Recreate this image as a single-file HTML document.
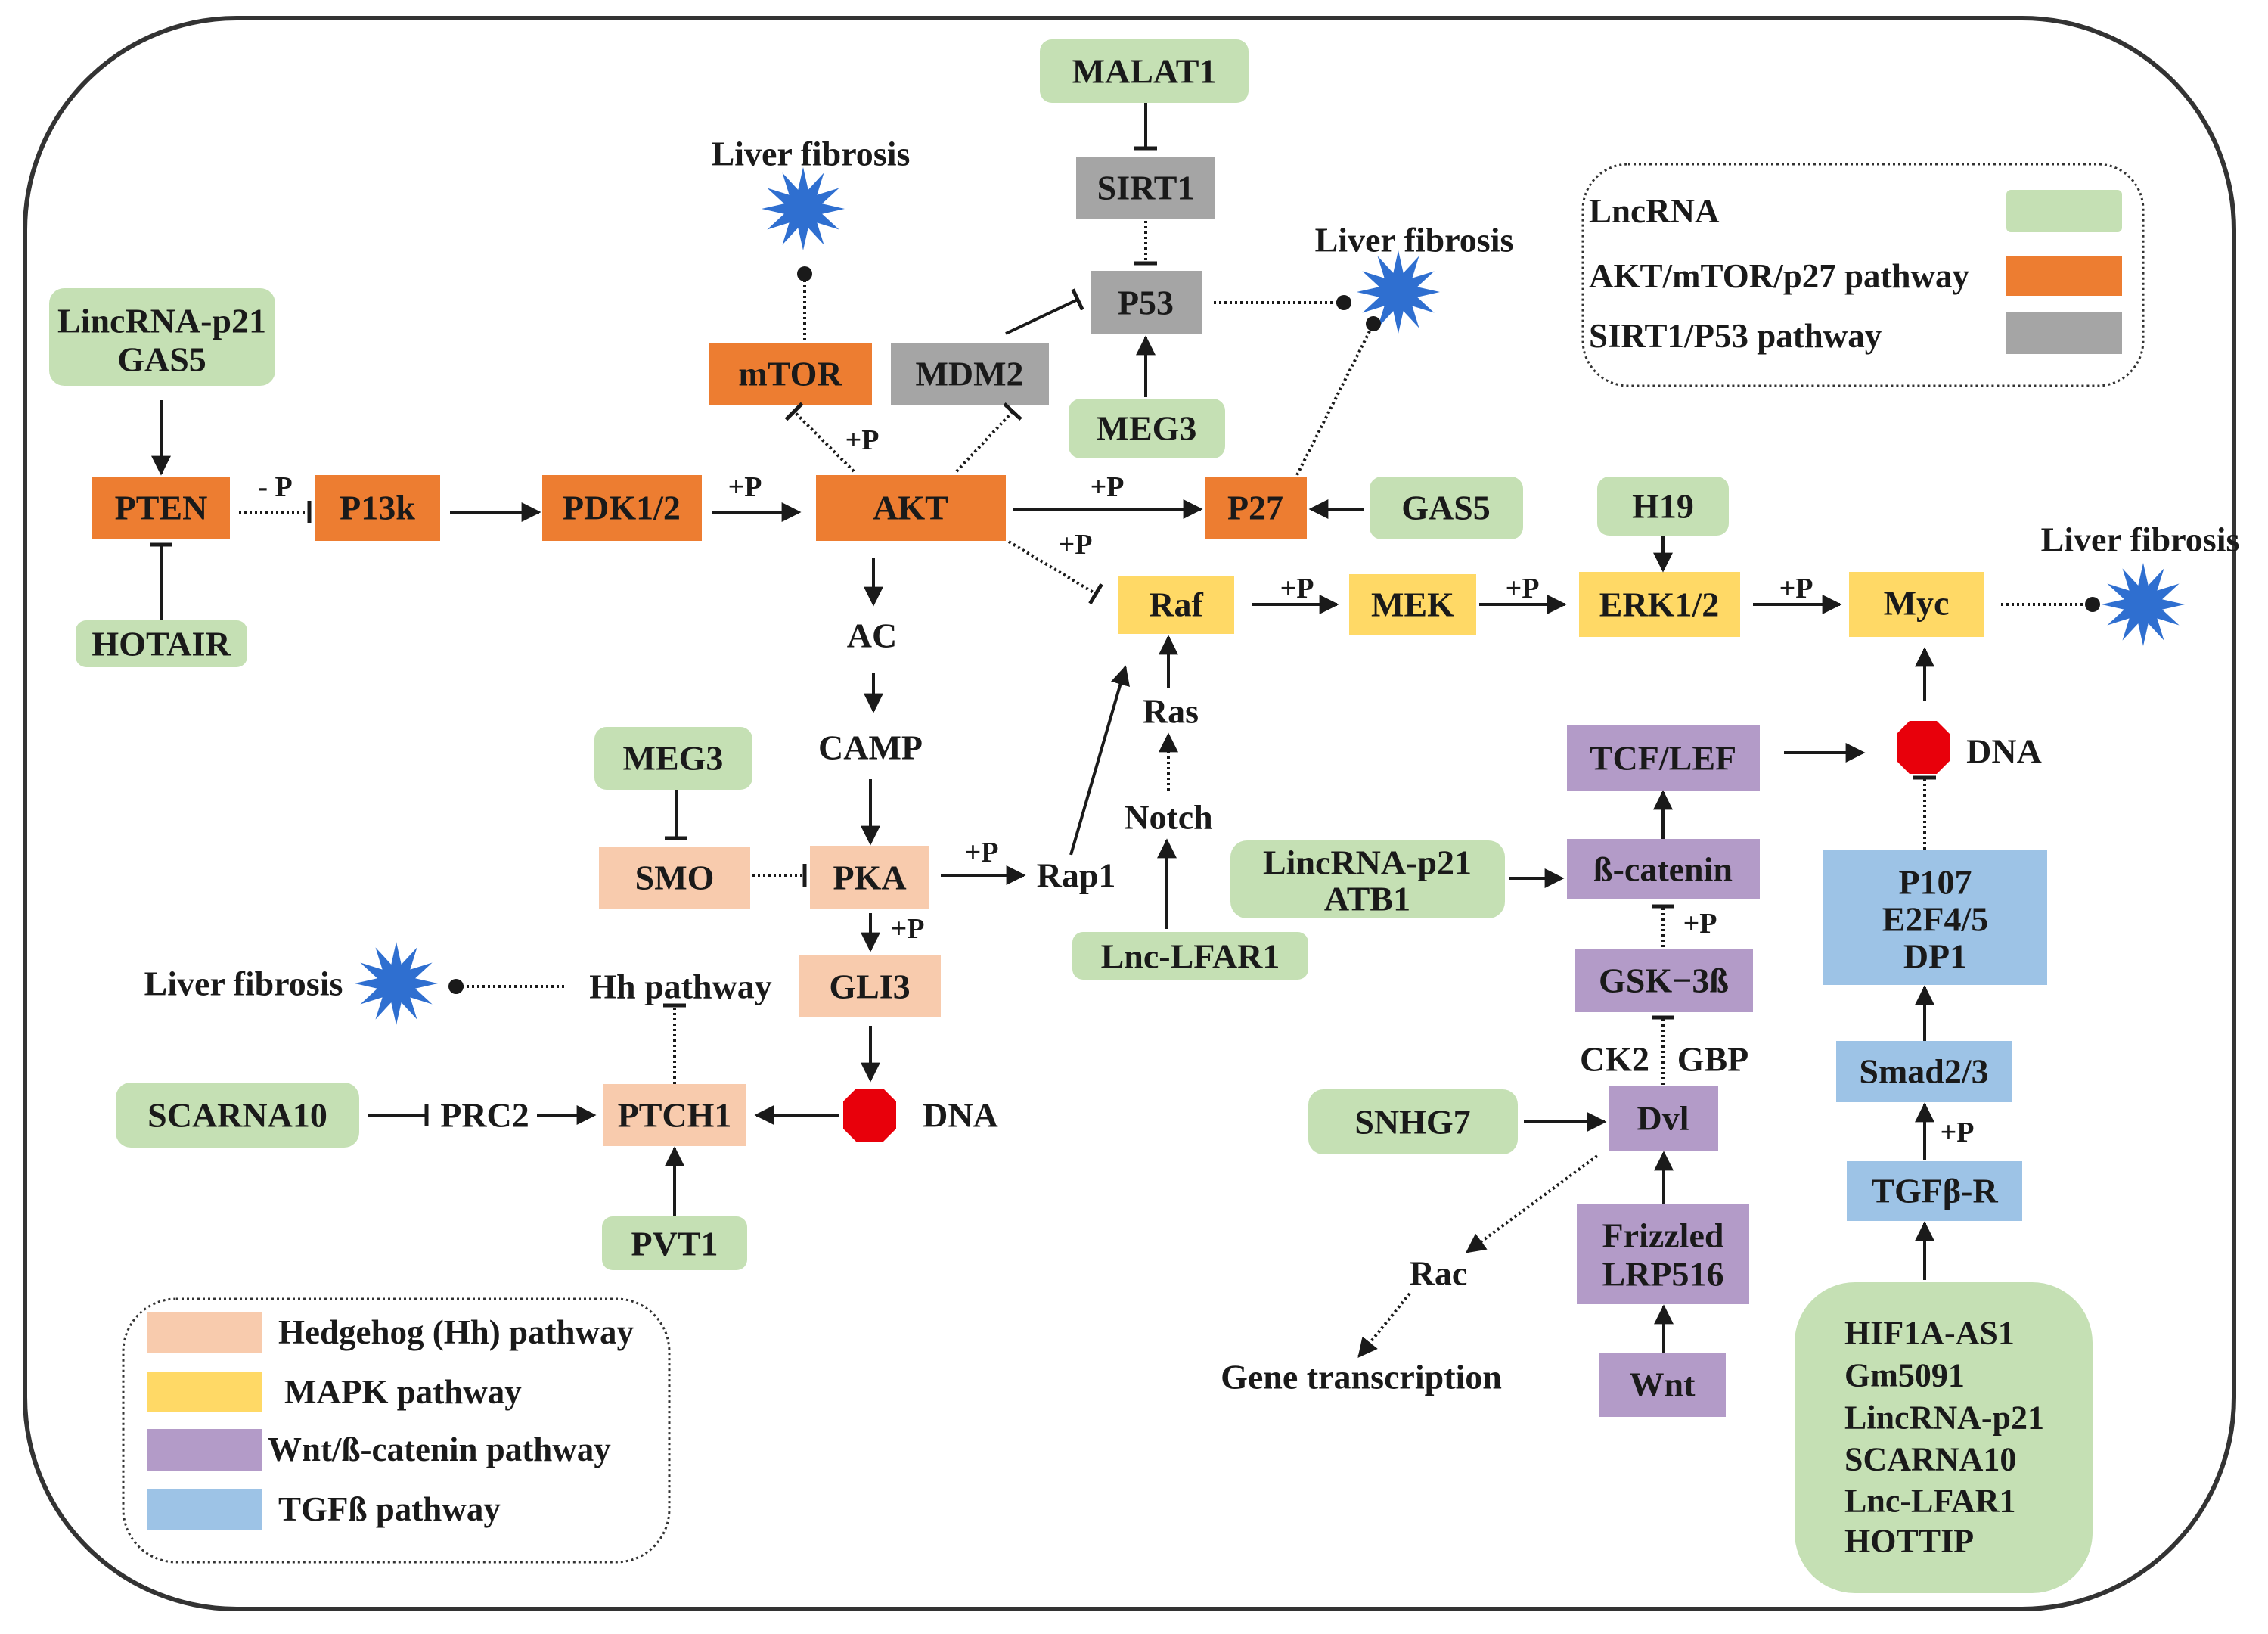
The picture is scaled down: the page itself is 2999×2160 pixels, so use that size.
<!DOCTYPE html>
<html><head><meta charset="utf-8"><style>
html,body{margin:0;padding:0;background:#fff}
svg{display:block}
text{font-family:"Liberation Serif",serif;font-weight:bold;fill:#1a1a1a}
</style></head><body>
<svg width="2999" height="2160" viewBox="0 0 2999 2160" xmlns="http://www.w3.org/2000/svg">
<defs>
<marker id="a" viewBox="0 0 10 10" refX="9" refY="5" markerWidth="26" markerHeight="26" markerUnits="userSpaceOnUse" orient="auto"><path d="M0,0 L10,5 L0,10z" fill="#1a1a1a"/></marker>
<marker id="t" viewBox="0 0 5 30" refX="2.5" refY="15" markerWidth="5" markerHeight="30" markerUnits="userSpaceOnUse" orient="auto"><rect width="5" height="30" fill="#1a1a1a"/></marker>
<marker id="d" viewBox="0 0 20 20" refX="10" refY="10" markerWidth="20" markerHeight="20" markerUnits="userSpaceOnUse" orient="auto"><circle cx="10" cy="10" r="10" fill="#1a1a1a"/></marker>
<polygon id="star" fill="#2f6fd0" points="55,0 25.1,6.7 47.6,27.5 18.4,18.4 27.5,47.6 6.7,25.1 0,55 -6.7,25.1 -27.5,47.6 -18.4,18.4 -47.6,27.5 -25.1,6.7 -55,0 -25.1,-6.7 -47.6,-27.5 -18.4,-18.4 -27.5,-47.6 -6.7,-25.1 0,-55 6.7,-25.1 27.5,-47.6 18.4,-18.4 47.6,-27.5 25.1,-6.7"/>
<polygon id="oct" fill="#e8000b" points="-18,-35 18,-35 35,-18 35,18 18,35 -18,35 -35,18 -35,-18"/>
</defs>
<rect x="33" y="24" width="2921" height="2103" rx="280" ry="280" fill="#fff" stroke="#333" stroke-width="6"/>

<rect x="2093" y="217" width="741" height="293" rx="60" fill="none" stroke="#333" stroke-width="3" stroke-dasharray="3 4"/>
<rect x="2653" y="251" width="153" height="56" rx="6" fill="#c5e0b4"/>
<rect x="2653" y="338" width="153" height="53" fill="#ed7d31"/>
<rect x="2653" y="413" width="153" height="55" fill="#a5a5a5"/>
<g font-size="45"><text x="2101" y="279" dominant-baseline="central">LncRNA</text>
<text x="2101" y="365" dominant-baseline="central">AKT/mTOR/p27 pathway</text>
<text x="2101" y="444" dominant-baseline="central">SIRT1/P53 pathway</text></g>

<rect x="163" y="1717" width="722" height="348" rx="70" fill="none" stroke="#333" stroke-width="3" stroke-dasharray="3 4"/>
<rect x="194" y="1734" width="152" height="54" fill="#f8cbad"/>
<rect x="194" y="1814" width="152" height="53" fill="#ffd966"/>
<rect x="194" y="1889" width="152" height="55" fill="#b39bc8"/>
<rect x="194" y="1968" width="152" height="54" fill="#9dc3e6"/>
<g font-size="45"><text x="368" y="1761" dominant-baseline="central">Hedgehog (Hh) pathway</text>
<text x="376" y="1840" dominant-baseline="central">MAPK pathway</text>
<text x="354" y="1916" dominant-baseline="central">Wnt/ß-catenin pathway</text>
<text x="368" y="1995" dominant-baseline="central">TGFß pathway</text></g>

<g>
<rect x="1375" y="52" width="276" height="84" rx="16" fill="#c5e0b4"/>
<rect x="1423" y="207" width="184" height="82" fill="#a5a5a5"/>
<rect x="1442" y="358" width="147" height="84" fill="#a5a5a5"/>
<rect x="1413" y="527" width="207" height="79" rx="16" fill="#c5e0b4"/>
<rect x="937" y="453" width="216" height="82" fill="#ed7d31"/>
<rect x="1178" y="453" width="209" height="82" fill="#a5a5a5"/>
<rect x="65" y="381" width="299" height="129" rx="20" fill="#c5e0b4"/>
<rect x="122" y="630" width="182" height="83" fill="#ed7d31"/>
<rect x="100" y="820" width="227" height="62" rx="14" fill="#c5e0b4"/>
<rect x="416" y="628" width="166" height="87" fill="#ed7d31"/>
<rect x="717" y="628" width="211" height="87" fill="#ed7d31"/>
<rect x="1079" y="628" width="251" height="87" fill="#ed7d31"/>
<rect x="1593" y="630" width="135" height="83" fill="#ed7d31"/>
<rect x="1811" y="630" width="203" height="83" rx="16" fill="#c5e0b4"/>
<rect x="2112" y="630" width="174" height="78" rx="16" fill="#c5e0b4"/>
<rect x="1478" y="761" width="154" height="77" fill="#ffd966"/>
<rect x="1784" y="759" width="168" height="81" fill="#ffd966"/>
<rect x="2088" y="756" width="213" height="86" fill="#ffd966"/>
<rect x="2445" y="756" width="179" height="86" fill="#ffd966"/>
<rect x="2072" y="959" width="255" height="86" fill="#b39bc8"/>
<rect x="2072" y="1109" width="255" height="80" fill="#b39bc8"/>
<rect x="2083" y="1254" width="235" height="84" fill="#b39bc8"/>
<rect x="2127" y="1436" width="145" height="85" fill="#b39bc8"/>
<rect x="2085" y="1591" width="228" height="133" fill="#b39bc8"/>
<rect x="2115" y="1788" width="167" height="85" fill="#b39bc8"/>
<rect x="1627" y="1111" width="363" height="103" rx="22" fill="#c5e0b4"/>
<rect x="1418" y="1232" width="312" height="63" rx="14" fill="#c5e0b4"/>
<rect x="1730" y="1440" width="277" height="86" rx="20" fill="#c5e0b4"/>
<rect x="2411" y="1123" width="296" height="179" fill="#9dc3e6"/>
<rect x="2428" y="1376" width="232" height="81" fill="#9dc3e6"/>
<rect x="2442" y="1535" width="232" height="79" fill="#9dc3e6"/>
<rect x="2373" y="1695" width="394" height="411" rx="80" fill="#c5e0b4"/>
<rect x="786" y="961" width="209" height="83" rx="16" fill="#c5e0b4"/>
<rect x="792" y="1119" width="200" height="82" fill="#f8cbad"/>
<rect x="1071" y="1118" width="158" height="83" fill="#f8cbad"/>
<rect x="1057" y="1263" width="187" height="82" fill="#f8cbad"/>
<rect x="797" y="1433" width="190" height="82" fill="#f8cbad"/>
<rect x="153" y="1431" width="322" height="86" rx="20" fill="#c5e0b4"/>
<rect x="796" y="1608" width="192" height="71" rx="14" fill="#c5e0b4"/>
</g>
<circle cx="2543" cy="988" r="33" fill="#e8000b"/><use href="#oct" x="2543" y="988"/>
<circle cx="1150" cy="1474" r="33" fill="#e8000b"/><use href="#oct" x="1150" y="1474"/>
<use href="#star" x="1062" y="276"/>
<use href="#star" x="1849" y="386"/>
<use href="#star" x="2834" y="799"/>
<use href="#star" x="524" y="1300"/>

<g font-size="46" text-anchor="middle" dominant-baseline="central">
<text x="1513" y="94">MALAT1</text>
<text x="1515" y="248">SIRT1</text>
<text x="1515" y="400">P53</text>
<text x="1516" y="566">MEG3</text>
<text x="1045" y="494">mTOR</text>
<text x="1282" y="494">MDM2</text>
<text x="214" y="424">LincRNA-p21</text>
<text x="214" y="475">GAS5</text>
<text x="213" y="671">PTEN</text>
<text x="213" y="851">HOTAIR</text>
<text x="499" y="671">P13k</text>
<text x="822" y="671">PDK1/2</text>
<text x="1204" y="671">AKT</text>
<text x="1660" y="671">P27</text>
<text x="1912" y="671">GAS5</text>
<text x="2199" y="669">H19</text>
<text x="1555" y="799">Raf</text>
<text x="1868" y="799">MEK</text>
<text x="2194" y="799">ERK1/2</text>
<text x="2534" y="797">Myc</text>
<text x="2199" y="1002">TCF/LEF</text>
<text x="2199" y="1149">ß-catenin</text>
<text x="2200" y="1296">GSK−3ß</text>
<text x="2199" y="1478">Dvl</text>
<text x="2199" y="1633">Frizzled</text>
<text x="2199" y="1684">LRP516</text>
<text x="2198" y="1830">Wnt</text>
<text x="1808" y="1140">LincRNA-p21</text>
<text x="1808" y="1188">ATB1</text>
<text x="1574" y="1264">Lnc-LFAR1</text>
<text x="1868" y="1483">SNHG7</text>
<text x="2559" y="1166">P107</text>
<text x="2559" y="1215">E2F4/5</text>
<text x="2559" y="1264">DP1</text>
<text x="2544" y="1416">Smad2/3</text>
<text x="2558" y="1574">TGFβ-R</text>
<text x="890" y="1002">MEG3</text>
<text x="892" y="1160">SMO</text>
<text x="1150" y="1160">PKA</text>
<text x="1150" y="1304">GLI3</text>
<text x="892" y="1474">PTCH1</text>
<text x="314" y="1474">SCARNA10</text>
<text x="892" y="1644">PVT1</text>
</g>
<g font-size="44" dominant-baseline="central">
<text x="2439" y="1762">HIF1A-AS1</text>
<text x="2439" y="1818">Gm5091</text>
<text x="2439" y="1874">LincRNA-p21</text>
<text x="2439" y="1929">SCARNA10</text>
<text x="2439" y="1984">Lnc-LFAR1</text>
<text x="2439" y="2037">HOTTIP</text>
</g>

<g font-size="46" text-anchor="middle" dominant-baseline="central">
<text x="1072" y="203">Liver fibrosis</text>
<text x="1870" y="317">Liver fibrosis</text>
<text x="2830" y="713">Liver fibrosis</text>
<text x="322" y="1300">Liver fibrosis</text>
<text x="1153" y="840">AC</text>
<text x="1151" y="988">CAMP</text>
<text x="1423" y="1157">Rap1</text>
<text x="1548" y="940" font-weight="normal">Ras</text>
<text x="1545" y="1080">Notch</text>
<text x="900" y="1304">Hh pathway</text>
<text x="641" y="1474">PRC2</text>
<text x="1270" y="1474">DNA</text>
<text x="2650" y="993">DNA</text>
<text x="2135" y="1400" font-weight="normal">CK2</text>
<text x="2265" y="1400" font-weight="normal">GBP</text>
<text x="1902" y="1683" font-weight="normal">Rac</text>
<text x="1800" y="1820">Gene transcription</text>
</g>
<g font-size="38" text-anchor="middle" dominant-baseline="central">
<text x="364" y="644">- P</text>
<text x="985" y="644">+P</text>
<text x="1140" y="582">+P</text>
<text x="1464" y="644">+P</text>
<text x="1422" y="720">+P</text>
<text x="1715" y="778">+P</text>
<text x="2013" y="778">+P</text>
<text x="2375" y="778">+P</text>
<text x="1298" y="1127">+P</text>
<text x="1200" y="1228">+P</text>
<text x="2248" y="1221">+P</text>
<text x="2588" y="1497">+P</text>
</g>

<g stroke="#1a1a1a" stroke-width="4" fill="none">
<line x1="1515" y1="136" x2="1515" y2="196" marker-end="url(#t)"/>
<line x1="1515" y1="292" x2="1515" y2="348" stroke-dasharray="3 4" marker-end="url(#t)"/>
<line x1="1330" y1="441" x2="1425" y2="396" marker-end="url(#t)"/>
<line x1="1515" y1="525" x2="1515" y2="446" marker-end="url(#a)"/>
<line x1="1605" y1="400" x2="1777" y2="400" stroke-dasharray="3 4" marker-end="url(#d)"/>
<line x1="1715" y1="628" x2="1816" y2="428" stroke-dasharray="3 4" marker-end="url(#d)"/>
<line x1="1064" y1="450" x2="1064" y2="362" stroke-dasharray="3 4" marker-end="url(#d)"/>
<line x1="213" y1="529" x2="213" y2="626" marker-end="url(#a)"/>
<line x1="213" y1="820" x2="213" y2="720" marker-end="url(#t)"/>
<line x1="316" y1="677" x2="409" y2="677" stroke-dasharray="3 4" marker-end="url(#t)"/>
<line x1="595" y1="677" x2="713" y2="677" marker-end="url(#a)"/>
<line x1="942" y1="677" x2="1057" y2="677" marker-end="url(#a)"/>
<line x1="1129" y1="623" x2="1050" y2="544" stroke-dasharray="3 4" marker-end="url(#t)"/>
<line x1="1265" y1="623" x2="1339" y2="544" stroke-dasharray="3 4" marker-end="url(#t)"/>
<line x1="1339" y1="673" x2="1588" y2="673" marker-end="url(#a)"/>
<line x1="1334" y1="716" x2="1449" y2="785" stroke-dasharray="3 4" marker-end="url(#t)"/>
<line x1="1803" y1="673" x2="1733" y2="673" marker-end="url(#a)"/>
<line x1="2199" y1="708" x2="2199" y2="754" marker-end="url(#a)"/>
<line x1="1655" y1="799" x2="1768" y2="799" marker-end="url(#a)"/>
<line x1="1956" y1="799" x2="2069" y2="799" marker-end="url(#a)"/>
<line x1="2318" y1="799" x2="2433" y2="799" marker-end="url(#a)"/>
<line x1="2646" y1="799" x2="2767" y2="799" stroke-dasharray="3 4" marker-end="url(#d)"/>
<line x1="1545" y1="909" x2="1545" y2="842" marker-end="url(#a)"/>
<line x1="1545" y1="1045" x2="1545" y2="971" stroke-dasharray="3 4" marker-end="url(#a)"/>
<line x1="1543" y1="1228" x2="1543" y2="1111" marker-end="url(#a)"/>
<line x1="1416" y1="1130" x2="1488" y2="882" marker-end="url(#a)"/>
<line x1="1155" y1="738" x2="1155" y2="799" marker-end="url(#a)"/>
<line x1="1155" y1="889" x2="1155" y2="940" marker-end="url(#a)"/>
<line x1="1151" y1="1030" x2="1151" y2="1115" marker-end="url(#a)"/>
<line x1="894" y1="1044" x2="894" y2="1108" marker-end="url(#t)"/>
<line x1="995" y1="1157" x2="1064" y2="1157" stroke-dasharray="3 4" marker-end="url(#t)"/>
<line x1="1244" y1="1157" x2="1354" y2="1157" marker-end="url(#a)"/>
<line x1="1151" y1="1207" x2="1151" y2="1256" marker-end="url(#a)"/>
<line x1="1151" y1="1356" x2="1151" y2="1428" marker-end="url(#a)"/>
<line x1="1110" y1="1474" x2="1000" y2="1474" marker-end="url(#a)"/>
<line x1="892" y1="1433" x2="892" y2="1329" stroke-dasharray="3 4" marker-end="url(#t)"/>
<line x1="746" y1="1304" x2="603" y2="1304" stroke-dasharray="3 4" marker-end="url(#d)"/>
<line x1="486" y1="1474" x2="564" y2="1474" marker-end="url(#t)"/>
<line x1="710" y1="1474" x2="786" y2="1474" marker-end="url(#a)"/>
<line x1="892" y1="1608" x2="892" y2="1518" marker-end="url(#a)"/>
<line x1="2359" y1="995" x2="2464" y2="995" marker-end="url(#a)"/>
<line x1="2545" y1="926" x2="2545" y2="858" marker-end="url(#a)"/>
<line x1="2545" y1="1123" x2="2545" y2="1028" stroke-dasharray="3 4" marker-end="url(#t)"/>
<line x1="2199" y1="1109" x2="2199" y2="1047" marker-end="url(#a)"/>
<line x1="1996" y1="1161" x2="2066" y2="1161" marker-end="url(#a)"/>
<line x1="2199" y1="1252" x2="2199" y2="1198" stroke-dasharray="3 4" marker-end="url(#t)"/>
<line x1="2199" y1="1434" x2="2199" y2="1345" stroke-dasharray="3 4" marker-end="url(#t)"/>
<line x1="2015" y1="1483" x2="2122" y2="1483" marker-end="url(#a)"/>
<line x1="2112" y1="1528" x2="1940" y2="1655" stroke-dasharray="3 4" marker-end="url(#a)"/>
<line x1="1864" y1="1710" x2="1797" y2="1793" stroke-dasharray="3 4" marker-end="url(#a)"/>
<line x1="2200" y1="1591" x2="2200" y2="1524" marker-end="url(#a)"/>
<line x1="2200" y1="1788" x2="2200" y2="1727" marker-end="url(#a)"/>
<line x1="2545" y1="1376" x2="2545" y2="1305" marker-end="url(#a)"/>
<line x1="2545" y1="1533" x2="2545" y2="1460" marker-end="url(#a)"/>
<line x1="2545" y1="1692" x2="2545" y2="1617" marker-end="url(#a)"/>
</g>
</svg>
</body></html>
